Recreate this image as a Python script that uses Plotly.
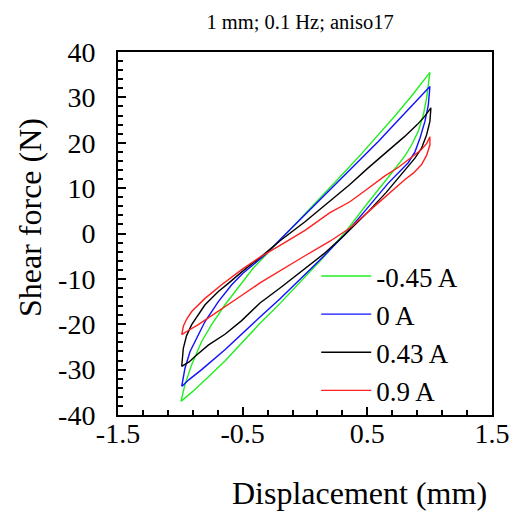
import plotly.graph_objects as go

# ---- data ----
currents = ["-0.45 A", "0 A", "0.43 A", "0.9 A"]
colors = ["#22ee22", "#1010ff", "#000000", "#ff2020"]

# -0.45 A : upper branch (left tip -> right tip) then lower branch (right tip -> left tip)
disp_m045 = [-0.995, -0.963, -0.909, -0.829, -0.749, -0.642, -0.535, -0.415, -0.308, -0.201,
             -0.04, 0.12, 0.227, 0.32, 0.454, 0.588, 0.721, 0.855, 0.95, 1.002,
             0.975, 0.949, 0.908, 0.855, 0.802, 0.721, 0.668, 0.5, 0.32, 0.15,
             -0.04, -0.2, -0.361, -0.5, -0.642, -0.776, -0.9, -0.995]
force_m045 = [-37.0, -33.3, -28.9, -23.8, -20.1, -15.7, -11.9, -7.6, -4.6, -1.5,
              3.0, 7.6, 10.8, 13.6, 17.6, 21.7, 25.9, 30.3, 33.5, 35.5,
              29.8, 26.1, 22.5, 19.5, 17.1, 14.1, 12.4, 6.6, 0.2, -5.2,
              -10.8, -15.4, -19.8, -24.0, -28.1, -31.6, -34.8, -37.0]

# 0 A
disp_0 = [-0.989, -0.963, -0.922, -0.883, -0.802, -0.695, -0.588, -0.5, -0.415, -0.308,
          -0.201, -0.04, 0.12, 0.227, 0.32, 0.454, 0.588, 0.721, 0.855, 0.95, 1.002,
          0.989, 0.962, 0.922, 0.882, 0.828, 0.735, 0.668, 0.5, 0.32, 0.15,
          -0.04, -0.2, -0.361, -0.5, -0.642, -0.829, -0.93, -0.989]
force_0 = [-33.7, -29.7, -26.0, -23.8, -19.4, -15.0, -11.3, -8.8, -6.9, -4.4,
           -1.4, 3.0, 7.5, 10.5, 13.0, 16.6, 20.3, 24.2, 28.1, 30.9, 32.4,
           28.3, 24.7, 21.0, 18.0, 15.6, 12.9, 11.1, 5.6, -0.2, -5.0,
           -10.1, -14.4, -18.4, -22.0, -25.6, -30.0, -32.2, -33.7]

# 0.43 A
disp_043 = [-0.989, -0.976, -0.95, -0.909, -0.802, -0.695, -0.615, -0.5, -0.361, -0.2,
            0.0, 0.2, 0.36, 0.5, 0.65, 0.8, 0.9, 0.96, 1.01,
            1.002, 0.975, 0.935, 0.882, 0.815, 0.748, 0.65, 0.5, 0.32, 0.15,
            -0.04, -0.2, -0.361, -0.508, -0.642, -0.776, -0.883, -0.93, -0.989]
force_043 = [-29.3, -25.3, -22.5, -20.1, -15.7, -12.8, -11.0, -8.3, -5.3, -1.6,
             2.6, 7.2, 10.8, 14.3, 17.8, 21.4, 24.0, 25.8, 27.7,
             24.7, 21.7, 18.8, 16.6, 14.4, 12.2, 9.0, 4.6, -0.3, -4.5,
             -8.6, -12.0, -15.3, -19.2, -22.2, -24.6, -27.1, -28.3, -29.3]

# 0.9 A
disp_09 = [-0.989, -0.975, -0.95, -0.909, -0.802, -0.669, -0.5, -0.361, -0.2, 0.0,
           0.2, 0.36, 0.5, 0.641, 0.75, 0.85, 0.93, 0.975, 1.002,
           1.002, 0.975, 0.935, 0.869, 0.802, 0.65, 0.5, 0.36, 0.2, 0.0,
           -0.2, -0.361, -0.5, -0.7, -0.856, -0.95, -0.989]
force_09 = [-22.3, -20.4, -18.9, -17.2, -14.3, -11.3, -7.8, -5.2, -2.6, 0.7,
            4.6, 7.0, 9.8, 12.7, 14.6, 16.6, 18.4, 19.8, 21.3,
            19.5, 17.2, 15.2, 13.3, 11.9, 8.3, 4.6, 1.2, -1.7, -4.9,
            -8.2, -10.9, -13.5, -17.2, -20.1, -21.6, -22.3]

x_tickvals = [-1.5, -0.5, 0.5, 1.5]
x_ticktext = ["-1.5", "-0.5", "0.5", "1.5"]
y_tickvals = [-40, -30, -20, -10, 0, 10, 20, 30, 40]
y_ticktext = ["-40", "-30", "-20", "-10", "0", "10", "20", "30", "40"]

title_text = "1 mm; 0.1 Hz; aniso17"
x_title = "Displacement (mm)"
y_title = "Shear force (N)"

series_x = [disp_m045, disp_0, disp_043, disp_09]
series_y = [force_m045, force_0, force_043, force_09]

FONT = "Liberation Serif, Times New Roman, serif"

fig = go.Figure()
for name, col, xs, ys in zip(currents, colors, series_x, series_y):
    fig.add_trace(go.Scatter(x=xs, y=ys, mode="lines", name=name,
                             line=dict(color=col, width=1.4)))

axis_common = dict(
    showline=True, linecolor="black", linewidth=2, mirror=True,
    ticks="inside", ticklen=8, tickwidth=2, tickcolor="black",
    showgrid=False, zeroline=False, automargin=False,
    tickfont=dict(family=FONT, size=28, color="black"),
)

fig.update_layout(
    width=511, height=510,
    margin=dict(l=110, r=27, t=44, b=103),
    paper_bgcolor="white", plot_bgcolor="white",
    font=dict(family=FONT, color="black"),
    title=dict(text=title_text, x=0.487, xref="paper", xanchor="center",
               y=0.9725, yref="container", yanchor="middle",
               font=dict(family=FONT, size=20.5, color="black")),
    xaxis=dict(range=[-1.5, 1.5], tickvals=x_tickvals, ticktext=x_ticktext,
               ticklabelstandoff=-8,
               minor=dict(dtick=0.2, tick0=-1.5, ticks="inside", ticklen=5, tickwidth=2, tickcolor="black"),
               **axis_common),
    yaxis=dict(range=[-40, 40], tickvals=y_tickvals, ticktext=y_ticktext,
               ticklabelstandoff=15,
               minor=dict(dtick=2, tick0=-40, ticks="inside", ticklen=5, tickwidth=2, tickcolor="black"),
               **axis_common),
    legend=dict(x=0.53, y=0.449, xanchor="left", yanchor="top",
                bgcolor="rgba(0,0,0,0)", borderwidth=0,
                font=dict(family=FONT, size=27, color="black"),
                itemwidth=50, tracegroupgap=0),
    showlegend=True,
    annotations=[
        dict(text=x_title, xref="paper", yref="paper", x=0.647, y=-0.215,
             xanchor="center", yanchor="middle", showarrow=False,
             font=dict(family=FONT, size=32, color="black")),
        dict(text=y_title, xref="paper", yref="paper", x=-0.235, y=0.543,
             xanchor="center", yanchor="middle", showarrow=False, textangle=-90,
             font=dict(family=FONT, size=32, color="black")),
    ],
)

fig.write_html("out.html")
